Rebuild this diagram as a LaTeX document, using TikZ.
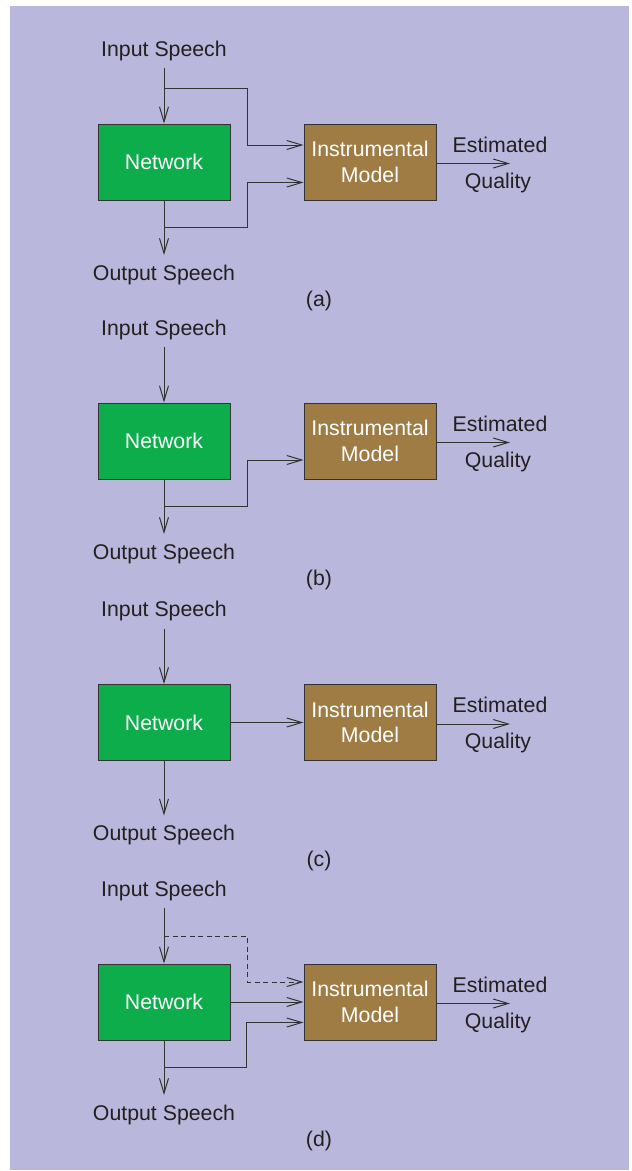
\documentclass[tikz,border=0pt]{standalone}
\usepackage{fontspec}
\setmainfont{Liberation Sans}
\usetikzlibrary{arrows.meta}
\definecolor{bgcol}{HTML}{B9B8DC}
\definecolor{netgreen}{HTML}{0DAD4C}
\definecolor{imbrown}{HTML}{A07C45}
\definecolor{ink}{HTML}{231F20}
\definecolor{edge}{HTML}{333333}
\tikzset{
  txt/.style={inner sep=0pt, anchor=base, text=ink, font=\fontsize{21.3}{25.5}\selectfont},
  netbox/.style={draw=edge, line width=1pt, fill=netgreen, minimum width=132pt, minimum height=76pt, inner sep=0pt, text=white, font=\fontsize{21.3}{25.5}\selectfont},
  imbox/.style={netbox, fill=imbrown, align=center},
  arr/.style={draw=edge, line width=1pt, -{Straight Barb[length=15pt,width=9pt]}},
  dasharr/.style={arr, dash pattern=on 5pt off 3.5pt}
}
\newcommand\panelbase[2]{%
  \node[txt] (inp#1) at (164,56) {Input Speech};
  \node[netbox] (net#1) at (164,162) {Network};
  \node[imbox] (im#1) at (370,162) {Instrumental\\Model};
  \node[txt] (out#1) at (164,280) {Output Speech};
  \node[txt] (lab#1) at (319,306) {(#2)};
  \node[txt] (est#1) at (500,152) {Estimated};
  \node[txt] (qual#1) at (498,188) {Quality};
  \coordinate (s#1) at (164,68);
  \coordinate (e#1) at (164,255);
  \coordinate (q#1) at (510,163.5);
  \draw[arr] (s#1) -- (net#1);
  \draw[arr] (net#1) -- (e#1);
  \draw[arr] (im#1.east |- q#1) -- (q#1);
}
\begin{document}
\begin{tikzpicture}[x=1pt, y=-1pt]
\useasboundingbox (0,0) rectangle (632,1171);
\fill[bgcol] (10,6) rectangle (629,1170);
% (a)
\begin{scope}
  \panelbase{a}{a}
  \coordinate (ja) at ([yshift=35pt]neta.north);
  \coordinate (ta) at ([yshift=17pt]ima.west);
  \draw[arr] (ja) -| ([xshift=-56pt]ta) -- (ta);
  \coordinate (jb) at ([yshift=-27pt]neta.south);
  \coordinate (tb) at ([yshift=-20.5pt]ima.west);
  \draw[arr] (jb) -| ([xshift=-56pt]tb) -- (tb);
\end{scope}
% (b)
\begin{scope}[shift={(0,279)}]
  \panelbase{b}{b}
  \coordinate (jbb) at ([yshift=-27pt]netb.south);
  \coordinate (tbb) at ([yshift=-19pt]imb.west);
  \draw[arr] (jbb) -| ([xshift=-56pt]tbb) -- (tbb);
\end{scope}
% (c)
\begin{scope}[shift={(0,560.5)}]
  \panelbase{c}{c}
  \draw[arr] (netc.east |- imc.west) -- (imc.west);
\end{scope}
% (d)
\begin{scope}[shift={(0,840)}]
  \panelbase{d}{d}
  \coordinate (jd) at ([yshift=27pt]netd.north);
  \coordinate (td) at ([yshift=20pt]imd.west);
  \draw[dasharr] (jd) -| ([xshift=-56pt]td) -- (td);
  \draw[arr] (netd.east |- imd.west) -- (imd.west);
  \coordinate (jdb) at ([yshift=-27pt]netd.south);
  \coordinate (tdb) at ([yshift=-20.5pt]imd.west);
  \draw[arr] (jdb) -| ([xshift=-57pt]tdb) -- (tdb);
\end{scope}
\end{tikzpicture}
\end{document}
